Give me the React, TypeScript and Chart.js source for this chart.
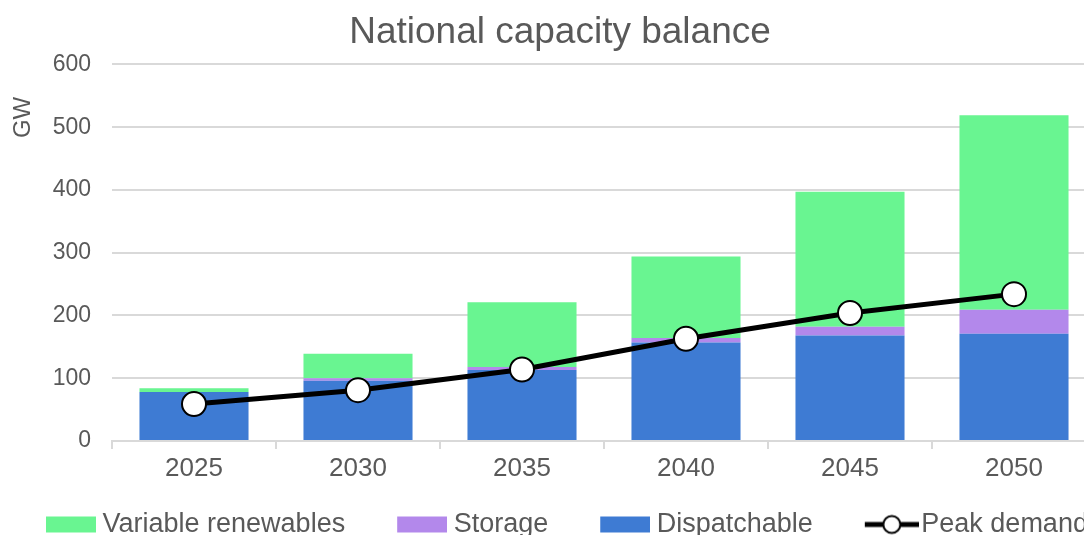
import React, { useEffect, useRef } from "react";
import { Chart, registerables } from "chart.js";

Chart.register(...registerables);

const years = ["2025", "2030", "2035", "2040", "2045", "2050"];
const dispatchable = [78, 96, 113, 157, 168, 171];
const storage = [0, 4, 5, 7, 14, 38];
const renewables = [6, 39, 103, 130, 215, 310];
const peakDemand = [59, 81, 114, 163, 204, 234];
const yTicks = [0, 100, 200, 300, 400, 500, 600];

const FONT = "'Liberation Sans', Arial, sans-serif";
const GREY = "#595959";
const C_REN = "#69F591";
const C_STO = "#B388EB";
const C_DIS = "#3E7BD3";

const BW = 70;
const SHIFT = 6;

function rectIcon(color: string) {
  const w = BW + 14;
  const c = document.createElement("canvas");
  c.width = w;
  c.height = 18;
  const x = c.getContext("2d")!;
  x.fillStyle = color;
  x.fillRect(w - 50, 1, 50, 16);
  return c;
}

function lineIcon() {
  const w = BW + 22;
  const c = document.createElement("canvas");
  c.width = w;
  c.height = 24;
  const x = c.getContext("2d")!;
  x.strokeStyle = "#000";
  x.lineWidth = 5;
  x.beginPath();
  x.moveTo(w - 54, 12);
  x.lineTo(w, 12);
  x.stroke();
  x.beginPath();
  x.arc(w - 27, 12, 8.5, 0, Math.PI * 2);
  x.fillStyle = "#fff";
  x.fill();
  x.lineWidth = 2;
  x.stroke();
  return c;
}

const gwPlugin = {
  id: "gwTitle",
  afterDraw(chart: any) {
    const ctx = chart.ctx;
    ctx.save();
    ctx.translate(23 + SHIFT, chart.chartArea.top + 53);
    ctx.rotate(-Math.PI / 2);
    ctx.font = `24px ${FONT}`;
    ctx.fillStyle = GREY;
    ctx.textAlign = "center";
    ctx.textBaseline = "middle";
    ctx.fillText("GW", 0, 0);
    ctx.restore();
  },
};

export default function App() {
  const ref = useRef<HTMLCanvasElement>(null);
  useEffect(() => {
    const icons = [rectIcon(C_REN), rectIcon(C_STO), rectIcon(C_DIS), lineIcon()];
    const chart = new Chart(ref.current!, {
      type: "bar",
      data: {
        labels: years,
        datasets: [
          {
            type: "line",
            label: "Peak demand",
            data: peakDemand,
            borderColor: "#000",
            borderWidth: 5,
            pointRadius: 12,
            pointBackgroundColor: "#fff",
            pointBorderColor: "#000",
            pointBorderWidth: 2,
            tension: 0,
            stack: "line",
            order: -1,
          } as any,
          {
            label: "Dispatchable",
            data: dispatchable,
            backgroundColor: C_DIS,
            stack: "cap",
          },
          {
            label: "Storage",
            data: storage,
            backgroundColor: C_STO,
            stack: "cap",
          },
          {
            label: "Variable renewables",
            data: renewables,
            backgroundColor: C_REN,
            stack: "cap",
          },
        ],
      },
      options: {
        responsive: false,
        animation: false,
        devicePixelRatio: 1,
        layout: { padding: 0 },
        datasets: { bar: { barPercentage: 0.665, categoryPercentage: 1 } },
        plugins: {
          title: {
            display: true,
            text: "National capacity balance",
            color: GREY,
            font: { family: FONT, size: 37, weight: "normal" },
            padding: { top: 11, bottom: 9 },
          },
          tooltip: { enabled: false },
          legend: {
            position: "bottom",
            align: "start",
            labels: {
              usePointStyle: true,
              pointStyleWidth: BW,
              boxHeight: 18,
              padding: 25,
              color: GREY,
              font: { family: FONT, size: 27 },
              generateLabels: () =>
                ["Variable renewables", "Storage", "Dispatchable", "Peak demand"].map((t, i) => ({
                  text: t,
                  pointStyle: icons[i] as any,
                  fillStyle: "transparent",
                  strokeStyle: "transparent",
                  lineWidth: 0,
                  fontColor: GREY,
                  hidden: false,
                  datasetIndex: [3, 2, 1, 0][i],
                })),
            },
          },
        },
        scales: {
          x: {
            stacked: true,
            grid: {
              display: true,
              drawOnChartArea: false,
              drawTicks: true,
              tickLength: 8,
              offset: true,
              color: "#d9d9d9",
              lineWidth: 2,
            },
            border: { display: true, color: "#d9d9d9", width: 2 },
            ticks: { color: GREY, font: { family: FONT, size: 26 }, padding: 4 },
            afterFit: (s: any) => {
              s.height = 45;
            },
          },
          y: {
            stacked: true,
            min: 0,
            max: 600,
            afterBuildTicks: (s: any) => {
              s.ticks = yTicks.map((v) => ({ value: v }));
            },
            grid: { color: "#d9d9d9", lineWidth: 2, drawTicks: false },
            border: { display: false },
            ticks: { color: GREY, font: { family: FONT, size: 23 }, padding: 21 },
            afterFit: (s: any) => {
              s.width = 112 + SHIFT;
            },
          },
          yRight: {
            position: "right",
            display: true,
            grid: { display: false },
            border: { display: false },
            ticks: { display: false },
            afterFit: (s: any) => {
              s.width = 24 + SHIFT;
            },
          },
        },
      } as any,
      plugins: [gwPlugin],
    });
    return () => chart.destroy();
  }, []);
  return (
    <div
      style={{
        position: "fixed",
        left: 0,
        top: 0,
        width: 1084,
        height: 535,
        overflow: "hidden",
        background: "#fff",
      }}
    >
      <canvas
        ref={ref}
        width={1120 + 2 * SHIFT}
        height={548}
        style={{ display: "block", marginLeft: -SHIFT }}
      />
    </div>
  );
}
